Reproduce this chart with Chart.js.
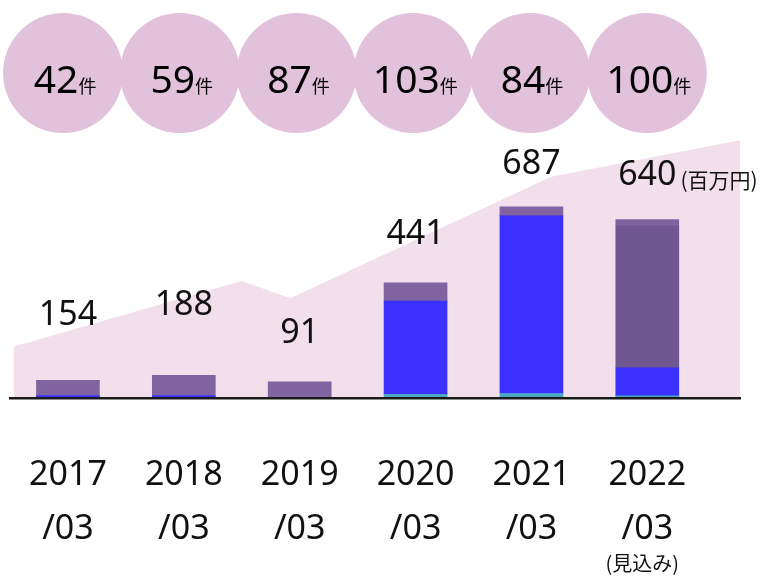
<!DOCTYPE html>
<html><head><meta charset="utf-8">
<script src="https://cdn.jsdelivr.net/npm/chart.js@4/dist/chart.umd.min.js"></script>
<style>html,body{margin:0;padding:0;background:#fff}#wrap{width:763px;height:576px}</style>
</head><body><div id="wrap"><canvas id="c" width="763" height="576"></canvas></div>
<script>
// ---- data ----
const categories = ['2017', '2018', '2019', '2020', '2021', '2022'];
const tickLines = [['2017', '/03'], ['2018', '/03'], ['2019', '/03'], ['2020', '/03'], ['2021', '/03'], ['2022', '/03']];
const forecastNote = '(見込み)';
const dealCounts = [42, 59, 87, 103, 84, 100];
const countUnit = '件';
const totals = [154, 188, 91, 441, 687, 640];
const totalUnit = '(百万円)';
// stacked bar segments (百万円)
const segTeal = [0, 0, 0, 13, 16, 8];
const segBlue = [9, 9, 0, 335, 638, 100];
const segDark = [0, 0, 0, 0, 0, 510];
const segLight = [54, 72, 58, 65, 32, 22];
// background trend area (x in category index units)
const areaX = [-0.47, 1.5, 1.92, 4.17, 5.8];
const areaY = [184, 420, 358, 794, 925];

const pts = arr => categories.map((c, i) => ({ x: i, y: arr[i] }));
const barDs = (label, arr, color) => ({
  type: 'bar', label, data: pts(arr), backgroundColor: color, borderWidth: 0,
  barThickness: 63, stack: 'bars', order: 1
});

const overlay = {
  id: 'overlay',
  beforeDatasetsDraw(chart, args, o) {
    const ctx = chart.ctx, xs = chart.scales.x;
    ctx.save();
    dealCounts.forEach((n, i) => {
      const cx = xs.getPixelForValue(o.circleShift + i * o.circleStep);
      ctx.beginPath();
      ctx.arc(cx, o.circleY, o.circleR, 0, Math.PI * 2);
      ctx.fillStyle = o.circleColor;
      ctx.fill();
    });
    dealCounts.forEach((n, i) => {
      const cx = xs.getPixelForValue(o.circleShift + i * o.circleStep);
      const s = String(n);
      ctx.font = o.countFont; const w1 = ctx.measureText(s).width;
      ctx.font = o.unitFont; const w2 = ctx.measureText(countUnit).width;
      const x0 = cx - (w1 + w2) / 2 + o.countShift;
      ctx.textAlign = 'left'; ctx.textBaseline = 'alphabetic'; ctx.fillStyle = '#000';
      ctx.font = o.countFont; ctx.fillText(s, x0, o.countBaseline);
      ctx.font = o.unitFont; ctx.fillText(countUnit, x0 + w1, o.countBaseline);
    });
    ctx.restore();
  },
  afterDatasetsDraw(chart, args, o) {
    const ctx = chart.ctx, xs = chart.scales.x, ys = chart.scales.y;
    ctx.save();
    ctx.textBaseline = 'alphabetic'; ctx.fillStyle = '#111';
    totals.forEach((t, i) => {
      const x = xs.getPixelForValue(i), y = ys.getPixelForValue(o.labelLevels[i]);
      ctx.font = o.totalFont; ctx.textAlign = 'center';
      const s = String(t);
      ctx.fillText(s, x, y);
      if (i === totals.length - 1) {
        const w = ctx.measureText(s).width;
        ctx.font = o.unitNoteFont; ctx.textAlign = 'left';
        ctx.fillText(totalUnit, x + w / 2 + 4, y + 3);
      }
    });
    const last = categories.length - 1;
    ctx.font = o.noteFont; ctx.textAlign = 'center';
    ctx.fillText(forecastNote, xs.getPixelForValue(last) - 5, o.noteBaseline);
    ctx.restore();
  }
};

new Chart(document.getElementById('c'), {
  data: {
    datasets: [
      barDs('teal', segTeal, '#4aa8c2'),
      barDs('blue', segBlue, '#3a30ff'),
      barDs('dark', segDark, '#6f5891'),
      barDs('light', segLight, '#8064a2'),
      {
        type: 'line', label: 'area', data: areaX.map((x, i) => ({ x, y: areaY[i] })),
        fill: 'origin', backgroundColor: '#f1dfeb', borderWidth: 0, pointRadius: 0,
        tension: 0, stack: 'area', order: 10
      }
    ]
  },
  options: {
    responsive: false, animation: false, events: [],
    layout: { padding: { left: 10, right: 23, top: 0, bottom: 0 } },
    plugins: {
      legend: { display: false }, tooltip: { enabled: false },
      overlay: {
        circleY: 73, circleR: 60, circleColor: '#e2c1db',
        circleShift: -0.042, circleStep: 1.0075,
        countFont: '39px "Noto Sans"', unitFont: '18px "Noto Sans CJK JP"',
        countBaseline: 93, countShift: 2,
        totalFont: '34px "Noto Sans"', noteFont: '20px "Noto Sans CJK JP"',
        unitNoteFont: '21px "Noto Sans CJK JP"',
        labelLevels: [262, 298, 197, 552, 803, 764],
        noteBaseline: 571
      }
    },
    scales: {
      x: {
        type: 'linear', min: -0.5, max: 5.8, stacked: true, offset: false,
        afterFit: s => { s.height = 178; s.paddingLeft = 0; s.paddingRight = 0; },
        afterBuildTicks: s => { s.ticks = categories.map((c, i) => ({ value: i })); },
        grid: { display: false, drawTicks: false },
        border: { display: true, color: '#1a1a1a', width: 2.5, z: 1 },
        ticks: {
          autoSkip: false, maxRotation: 0, padding: 50, color: '#111',
          font: { family: '"Noto Sans"', size: 34, lineHeight: 1.6 },
          callback: v => tickLines[v] || ''
        }
      },
      y: { display: false, min: 0, max: 1428, stacked: true }
    }
  },
  plugins: [overlay]
});
</script>
</body></html>
